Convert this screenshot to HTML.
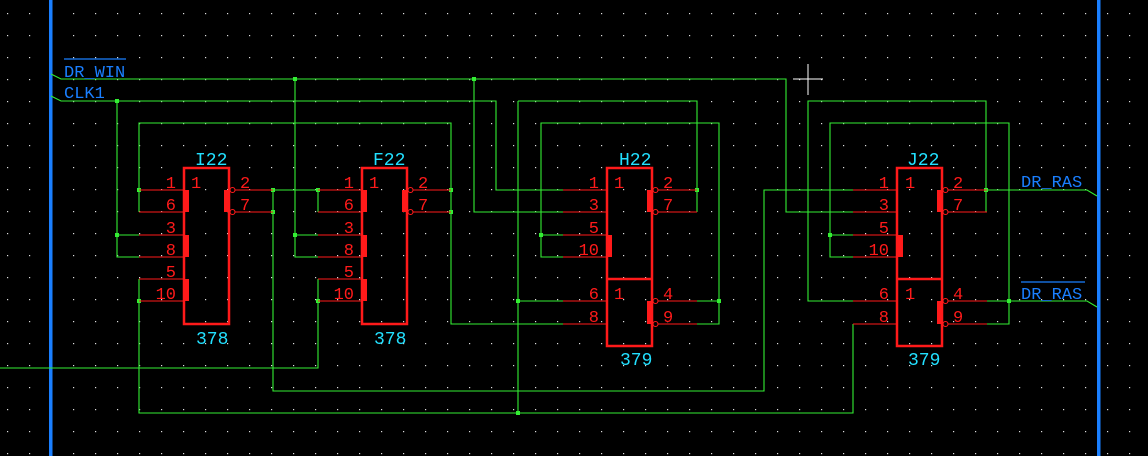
<!DOCTYPE html>
<html><head><meta charset="utf-8"><style>
html,body{margin:0;padding:0;background:#000;}
svg{display:block;}
.g{stroke:#33ee33;stroke-width:1.1;fill:none;}
.r{stroke:#ff1a1a;stroke-width:1.1;fill:none;}
.box{stroke:#ff1a1a;stroke-width:2.5;fill:none;}
.bar{fill:#ff1a1a;}
.pn{fill:#ff1a1a;font-family:"Liberation Mono",monospace;font-size:17px;}
.lb{fill:#22e0ff;font-family:"Liberation Mono",monospace;font-size:18px;}
.bl{fill:#1a7fff;font-family:"Liberation Mono",monospace;font-size:17px;}
.j{fill:#33ee33;}
</style></head><body>
<svg width="1148" height="456" viewBox="0 0 1148 456" xmlns="http://www.w3.org/2000/svg">
<defs><pattern id="dots" x="7" y="13" width="22" height="22" patternUnits="userSpaceOnUse"><rect x="0" y="0" width="1.2" height="1.2" fill="#dddddd"/></pattern></defs>
<rect width="1148" height="456" fill="#000"/>
<rect width="1148" height="456" fill="url(#dots)"/>

<rect x="49" y="0" width="3.5" height="456" fill="#1a7fff"/>
<rect x="1097" y="0" width="3.5" height="456" fill="#1a7fff"/>

<g class="g">
<polyline points="51,74 61,79 786,79 786,212 853,212"/>
<polyline points="295,79 295,257 318,257"/>
<polyline points="295,235 318,235"/>
<polyline points="474,79 474,212 563,212"/>
<polyline points="51,96 61,101 496,101 496,190 563,190"/>
<polyline points="117,101 117,257 139,257"/>
<polyline points="117,235 139,235"/>
<polyline points="139,212 139,123 451,123 451,324 563,324"/>
<polyline points="273,190 318,190 318,212"/>
<polyline points="273,190 273,391 764,391 764,190 853,190"/>
<polyline points="139,279 139,413 853,413 853,324"/>
<polyline points="318,279 318,368 0,368"/>
<polyline points="518,101 697,101 697,212"/>
<polyline points="518,101 518,413"/>
<polyline points="518,301 563,301"/>
<polyline points="563,257 541,257 541,123 719,123 719,324 697,324"/>
<polyline points="541,235 563,235"/>
<polyline points="697,301 719,301"/>
<polyline points="853,301 808,301 808,101 986,101 986,212"/>
<polyline points="986,190 1087,190 1097,196"/>
<polyline points="853,257 830,257 830,123 1009,123 1009,324 987,324"/>
<polyline points="830,235 853,235"/>
<polyline points="987,301 1087,301 1097,307"/>
</g>
<g class="j">
<rect x="293" y="77" width="4" height="4"/><rect x="472" y="77" width="4" height="4"/>
<rect x="115" y="99" width="4" height="4"/><rect x="115" y="233" width="4" height="4"/>
<rect x="293" y="233" width="4" height="4"/>
<rect x="137" y="188" width="4" height="4"/><rect x="137" y="299" width="4" height="4"/>
<rect x="271" y="188" width="4" height="4"/><rect x="271" y="210" width="4" height="4"/>
<rect x="316" y="188" width="4" height="4"/><rect x="316" y="299" width="4" height="4"/>
<rect x="449" y="188" width="4" height="4"/><rect x="449" y="210" width="4" height="4"/>
<rect x="516" y="299" width="4" height="4"/><rect x="516" y="411" width="4" height="4"/>
<rect x="539" y="233" width="4" height="4"/>
<rect x="695" y="188" width="4" height="4"/><rect x="717" y="299" width="4" height="4"/>
<rect x="828" y="233" width="4" height="4"/>
<rect x="984" y="188" width="4" height="4"/><rect x="1007" y="299" width="4" height="4"/>
</g>

<g>
<g class="r"><line x1="139" y1="190" x2="184" y2="190"/><line x1="139" y1="212" x2="184" y2="212"/><line x1="139" y1="235" x2="184" y2="235"/><line x1="139" y1="257" x2="184" y2="257"/><line x1="139" y1="279" x2="184" y2="279"/><line x1="139" y1="301" x2="184" y2="301"/>
<line x1="235" y1="190" x2="273" y2="190"/><line x1="235" y1="212" x2="273" y2="212"/>
<circle cx="232.5" cy="190" r="2.5"/><circle cx="232.5" cy="212" r="2.5"/></g>
<rect class="box" x="184" y="168" width="45" height="156"/>
<rect class="bar" x="184" y="190" width="5" height="22"/><rect class="bar" x="184" y="235" width="5" height="22"/><rect class="bar" x="184" y="279" width="5" height="22"/>
<rect class="bar" x="224" y="190" width="5" height="22"/>
<g class="pn" text-anchor="end"><text x="176" y="188">1</text><text x="176" y="210">6</text><text x="176" y="233">3</text><text x="176" y="255">8</text><text x="176" y="277">5</text><text x="176" y="299">10</text></g>
<g class="pn"><text x="191" y="188">1</text><text x="240" y="188">2</text><text x="240" y="210">7</text></g>
<text class="lb" x="195" y="165">I22</text><text class="lb" x="196" y="344">378</text>
</g>

<g>
<g class="r"><line x1="318" y1="190" x2="362" y2="190"/><line x1="318" y1="212" x2="362" y2="212"/><line x1="318" y1="235" x2="362" y2="235"/><line x1="318" y1="257" x2="362" y2="257"/><line x1="318" y1="279" x2="362" y2="279"/><line x1="318" y1="301" x2="362" y2="301"/>
<line x1="413" y1="190" x2="451" y2="190"/><line x1="413" y1="212" x2="451" y2="212"/>
<circle cx="410.5" cy="190" r="2.5"/><circle cx="410.5" cy="212" r="2.5"/></g>
<rect class="box" x="362" y="168" width="45" height="156"/>
<rect class="bar" x="362" y="190" width="5" height="22"/><rect class="bar" x="362" y="235" width="5" height="22"/><rect class="bar" x="362" y="279" width="5" height="22"/>
<rect class="bar" x="402" y="190" width="5" height="22"/>
<g class="pn" text-anchor="end"><text x="354" y="188">1</text><text x="354" y="210">6</text><text x="354" y="233">3</text><text x="354" y="255">8</text><text x="354" y="277">5</text><text x="354" y="299">10</text></g>
<g class="pn"><text x="369" y="188">1</text><text x="418" y="188">2</text><text x="418" y="210">7</text></g>
<text class="lb" x="373" y="165">F22</text><text class="lb" x="374" y="344">378</text>
</g>

<g>
<g class="r"><line x1="563" y1="190" x2="607" y2="190"/><line x1="563" y1="212" x2="607" y2="212"/><line x1="563" y1="235" x2="607" y2="235"/><line x1="563" y1="257" x2="607" y2="257"/><line x1="563" y1="301" x2="607" y2="301"/><line x1="563" y1="324" x2="607" y2="324"/>
<line x1="658" y1="190" x2="697" y2="190"/><line x1="658" y1="212" x2="697" y2="212"/><line x1="658" y1="301" x2="697" y2="301"/><line x1="658" y1="324" x2="697" y2="324"/>
<circle cx="655.5" cy="190" r="2.5"/><circle cx="655.5" cy="212" r="2.5"/><circle cx="655.5" cy="301" r="2.5"/><circle cx="655.5" cy="324" r="2.5"/></g>
<rect class="box" x="607" y="168" width="45" height="178"/>
<line x1="607" y1="279" x2="652" y2="279" stroke="#ff1a1a" stroke-width="2.5"/>
<rect class="bar" x="607" y="235" width="5" height="22"/>
<rect class="bar" x="647" y="190" width="5" height="22"/><rect class="bar" x="647" y="301" width="5" height="23"/>
<g class="pn" text-anchor="end"><text x="599" y="188">1</text><text x="599" y="210">3</text><text x="599" y="233">5</text><text x="599" y="255">10</text><text x="599" y="299">6</text><text x="599" y="322">8</text></g>
<g class="pn"><text x="614" y="188">1</text><text x="614" y="299">1</text><text x="663" y="188">2</text><text x="663" y="210">7</text><text x="663" y="299">4</text><text x="663" y="322">9</text></g>
<text class="lb" x="619" y="165">H22</text><text class="lb" x="620" y="365">379</text>
</g>

<g>
<g class="r"><line x1="853" y1="190" x2="897" y2="190"/><line x1="853" y1="212" x2="897" y2="212"/><line x1="853" y1="235" x2="897" y2="235"/><line x1="853" y1="257" x2="897" y2="257"/><line x1="853" y1="301" x2="897" y2="301"/><line x1="853" y1="324" x2="897" y2="324"/>
<line x1="948" y1="190" x2="987" y2="190"/><line x1="948" y1="212" x2="987" y2="212"/><line x1="948" y1="301" x2="987" y2="301"/><line x1="948" y1="324" x2="987" y2="324"/>
<circle cx="945.5" cy="190" r="2.5"/><circle cx="945.5" cy="212" r="2.5"/><circle cx="945.5" cy="301" r="2.5"/><circle cx="945.5" cy="324" r="2.5"/></g>
<rect class="box" x="897" y="168" width="45" height="178"/>
<line x1="897" y1="279" x2="942" y2="279" stroke="#ff1a1a" stroke-width="2.5"/>
<rect class="bar" x="897" y="235" width="6" height="22"/>
<rect class="bar" x="937" y="190" width="5" height="22"/><rect class="bar" x="937" y="301" width="5" height="23"/>
<g class="pn" text-anchor="end"><text x="889" y="188">1</text><text x="889" y="210">3</text><text x="889" y="233">5</text><text x="889" y="255">10</text><text x="889" y="299">6</text><text x="889" y="322">8</text></g>
<g class="pn"><text x="905" y="188">1</text><text x="905" y="299">1</text><text x="953" y="188">2</text><text x="953" y="210">7</text><text x="953" y="299">4</text><text x="953" y="322">9</text></g>
<text class="lb" x="907" y="165">J22</text><text class="lb" x="908" y="365">379</text>
</g>

<line x1="64" y1="59" x2="126" y2="59" stroke="#1a7fff" stroke-width="1.3"/>
<text class="bl" x="64" y="77">DR_WIN</text>
<text class="bl" x="64" y="98">CLK1</text>
<text class="bl" x="1021" y="187">DR_RAS</text>
<line x1="1021" y1="282" x2="1085" y2="282" stroke="#1a7fff" stroke-width="1.3"/>
<text class="bl" x="1021" y="299">DR_RAS</text>

<line x1="793" y1="79" x2="823" y2="79" stroke="#fff" stroke-width="1"/>
<line x1="808" y1="64" x2="808" y2="95" stroke="#fff" stroke-width="1"/>
</svg>
</body></html>
